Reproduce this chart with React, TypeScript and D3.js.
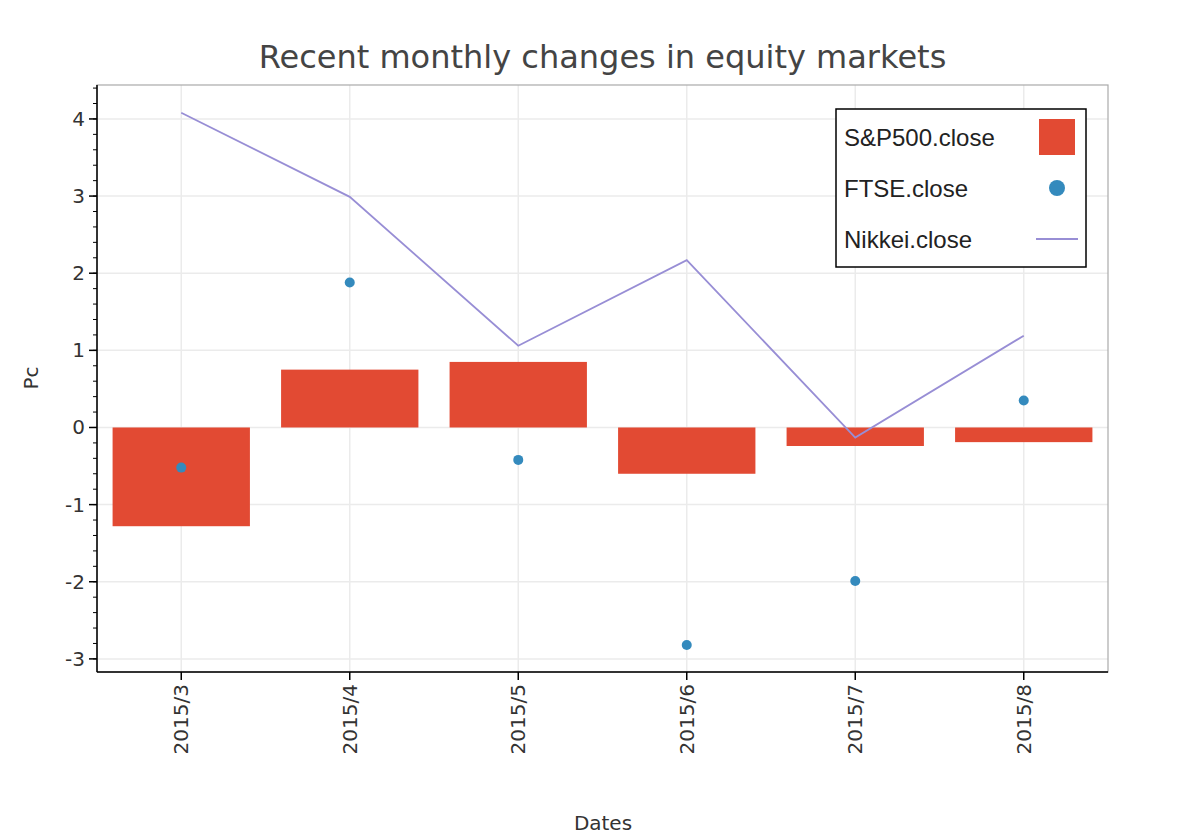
import React from "react";
import * as d3 from "d3";

const categories = ["2015/3", "2015/4", "2015/5", "2015/6", "2015/7", "2015/8"];
const sp500 = [-1.28, 0.75, 0.85, -0.6, -0.24, -0.19];
const ftse = [-0.52, 1.88, -0.42, -2.82, -1.99, 0.35];
const nikkei = [4.08, 2.99, 1.06, 2.17, -0.13, 1.19];
const yTicks = [-3, -2, -1, 0, 1, 2, 3, 4];

export default function App() {
  const L = 97, R = 1108, T = 85, B = 672;
  const x = d3.scaleBand<string>().domain(categories).range([L, R]).paddingInner(0.185).paddingOuter(0.0925);
  const y = d3.scaleLinear().domain([-3.17, 4.44]).range([B, T]);
  const cx = (c: string) => (x(c) as number) + x.bandwidth() / 2;
  const minor = d3.range(-3.2, 4.41, 0.2).map(v => +v.toFixed(1)).filter(v => y(v) >= T && y(v) <= B);
  const line = d3.line<number>().x((_, i) => cx(categories[i])).y(d => y(d));
  const font = "DejaVu Sans, sans-serif";
  return (
    <svg width={1194} height={838} style={{ position: "absolute", left: 0, top: 0 }} fontFamily={font}>
      <rect width={1194} height={838} fill="white" />
      {yTicks.map(t => <line key={t} x1={L} x2={R} y1={y(t)} y2={y(t)} stroke="#ebebeb" strokeWidth={1.5} />)}
      {categories.map(c => <line key={c} x1={cx(c)} x2={cx(c)} y1={T} y2={B} stroke="#ebebeb" strokeWidth={1.5} />)}
      <rect x={L} y={T} width={R - L} height={B - T} fill="none" stroke="#aaa" strokeWidth={1.2} />
      {sp500.map((v, i) => (
        <rect key={i} x={x(categories[i])} width={x.bandwidth()} y={y(Math.max(0, v))} height={Math.abs(y(v) - y(0))} fill="#E24A33" />
      ))}
      <path d={line(nikkei) || ""} fill="none" stroke="#988ED5" strokeWidth={1.8} />
      {ftse.map((v, i) => <circle key={i} cx={cx(categories[i])} cy={y(v)} r={5} fill="#348ABD" />)}
      <line x1={L} x2={L} y1={T} y2={B} stroke="black" strokeWidth={1.5} />
      <line x1={L} x2={R} y1={B} y2={B} stroke="black" strokeWidth={1.5} />
      {minor.map(v => <line key={v} x1={L - 4} x2={L} y1={y(v)} y2={y(v)} stroke="black" />)}
      {yTicks.map(t => (
        <g key={t}>
          <line x1={L - 8} x2={L} y1={y(t)} y2={y(t)} stroke="black" strokeWidth={1.5} />
          <text x={L - 52} y={y(t)} dy="0.35em" fontSize={20} fill="#333" textAnchor="end" dx={40}>{t}</text>
        </g>
      ))}
      {categories.map(c => (
        <g key={c}>
          <line x1={cx(c)} x2={cx(c)} y1={B} y2={B + 8} stroke="black" strokeWidth={1.5} />
          <text transform={`translate(${cx(c) + 7},${B + 12}) rotate(-90)`} fontSize={20} fill="#333" textAnchor="end">{c}</text>
        </g>
      ))}
      <text x={(L + R) / 2} y={68} textAnchor="middle" fontSize={32} fill="#444">Recent monthly changes in equity markets</text>
      <text x={603} y={830} textAnchor="middle" fontSize={20} fill="#333">Dates</text>
      <text transform="translate(38,378) rotate(-90)" textAnchor="middle" fontSize={20} fill="#333">Pc</text>
      <g fontFamily="Liberation Sans, Arial, sans-serif" fontSize={24} fill="#222">
        <rect x={836} y={109} width={250} height={158} fill="white" stroke="black" strokeWidth={1.5} />
        <text x={844} y={146}>S&amp;P500.close</text>
        <rect x={1039} y={119} width={36} height={36} fill="#E24A33" />
        <text x={844} y={197}>FTSE.close</text>
        <circle cx={1057} cy={188} r={8} fill="#348ABD" />
        <text x={844} y={248}>Nikkei.close</text>
        <line x1={1036} x2={1078} y1={239} y2={239} stroke="#988ED5" strokeWidth={1.8} />
      </g>
    </svg>
  );
}
